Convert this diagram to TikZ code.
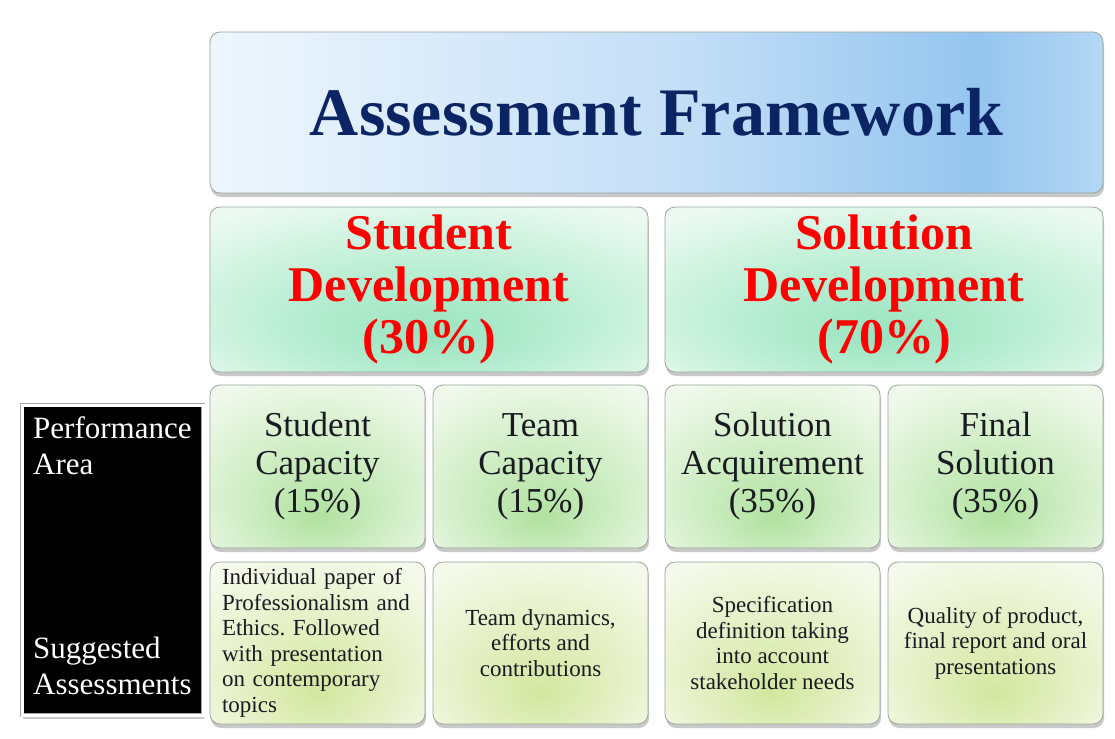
\documentclass[tikz,border=0pt]{standalone}
\usepackage{fontspec}
\setmainfont{Liberation Serif}
\usetikzlibrary{positioning,shadows}

\definecolor{navytext}{HTML}{0B2463}
\definecolor{bodytext}{HTML}{1A1A22}
\definecolor{edgegray}{HTML}{9AA59C}
\definecolor{skyA}{HTML}{EEF6FD}
\definecolor{skyB}{HTML}{C2DEF7}
\definecolor{skyC}{HTML}{94C5EF}
\definecolor{skyD}{HTML}{B4D7F5}
\definecolor{mintcore}{HTML}{98E4C0}
\definecolor{mintmid}{HTML}{BDEFD5}
\definecolor{mintedge}{HTML}{ECFAF2}
\definecolor{leafcore}{HTML}{B0E2A0}
\definecolor{leafmid}{HTML}{D0EEC5}
\definecolor{leafedge}{HTML}{F0F9EC}
\definecolor{limecore}{HTML}{D3E79E}
\definecolor{limemid}{HTML}{E4F0C4}
\definecolor{limeedge}{HTML}{F6FAEC}

\pgfdeclarehorizontalshading{skyband}{100bp}{color(0bp)=(skyA); color(25bp)=(skyA);
  color(52bp)=(skyB); color(68bp)=(skyC); color(75bp)=(skyD); color(100bp)=(skyD)}
\pgfdeclareradialshading{mintglow}{\pgfpoint{0bp}{-14bp}}{color(0bp)=(mintcore);
  color(18bp)=(mintmid); color(36bp)=(mintedge); color(60bp)=(mintedge)}
\pgfdeclareradialshading{leafglow}{\pgfpoint{0bp}{-16bp}}{color(0bp)=(leafcore);
  color(18bp)=(leafmid); color(36bp)=(leafedge); color(60bp)=(leafedge)}
\pgfdeclareradialshading{limeglow}{\pgfpoint{0bp}{-16bp}}{color(0bp)=(limecore);
  color(18bp)=(limemid); color(36bp)=(limeedge); color(60bp)=(limeedge)}

\tikzset{
  panel/.style={draw=edgegray, line width=0.8pt, rounded corners=10pt, outer sep=0pt,
    inner sep=4pt, align=center,
    drop shadow={shadow xshift=1pt, shadow yshift=-4pt, opacity=0.35, fill=black!60}},
  headbox/.style={panel, shading=skyband, minimum width=893pt, minimum height=161pt,
    text=navytext, font=\fontsize{68}{72}\selectfont\bfseries},
  groupbox/.style={panel, shading=mintglow, minimum width=438pt, minimum height=165pt,
    text=red, font=\fontsize{50}{52}\selectfont\bfseries},
  areabox/.style={panel, shading=leafglow, minimum width=215pt, minimum height=163pt,
    text=bodytext, font=\fontsize{35}{38}\selectfont},
  taskbox/.style={panel, shading=limeglow, minimum width=215pt, minimum height=162pt,
    text=bodytext, font=\fontsize{23}{25.5}\selectfont},
  sidebox/.style={fill=black, draw=gray!70, line width=0.6pt, double=white,
    double distance=3pt, minimum width=181pt, minimum height=310pt, outer sep=0pt,
    drop shadow={shadow xshift=1pt, shadow yshift=-4pt, opacity=0.35, fill=black!60}},
  sidelabel/.style={text=white, inner sep=0pt, align=left,
    font=\fontsize{31}{36}\selectfont}
}

\begin{document}
\frenchspacing
\begin{tikzpicture}[x=1pt,y=-1pt]
  \fill[white] (0,0) rectangle (1115,738);
  \useasboundingbox (0,0) rectangle (1115,738);

  \node[headbox] (frame) at (656.5,112.5) {Assessment Framework};

  \node[groupbox, below=14pt of frame.south west, anchor=north west] (studdev)
    {Student\\Development\\(30\%)};
  \node[groupbox, below=14pt of frame.south east, anchor=north east] (soldev)
    {Solution\\Development\\(70\%)};

  \node[areabox, below=13pt of studdev.south west, anchor=north west] (stucap)
    {Student\\Capacity\\(15\%)};
  \node[areabox, below=13pt of studdev.south east, anchor=north east] (teamcap)
    {Team\\Capacity\\(15\%)};
  \node[areabox, below=13pt of soldev.south west, anchor=north west] (solacq)
    {Solution\\Acquirement\\(35\%)};
  \node[areabox, below=13pt of soldev.south east, anchor=north east] (finsol)
    {Final\\Solution\\(35\%)};

  \node[taskbox, below=14pt of stucap, text width=191pt, align=left] (stutask)
    {Individual paper of Professionalism and Ethics. Followed with presentation
     on contemporary topics};
  \node[taskbox, below=14pt of teamcap] (teamtask)
    {Team dynamics,\\efforts and\\contributions};
  \node[taskbox, below=14pt of solacq] (acqtask)
    {Specification\\definition taking\\into account\\stakeholder needs};
  \node[taskbox, below=14pt of finsol] (fintask)
    {Quality of product,\\final report and oral\\presentations};

  \node[sidebox] (sidecol) at (112.5,560) {};
  \node[sidelabel, below right=11pt and 11pt of sidecol.north west] (perfarea)
    {Performance\\Area};
  \node[sidelabel, above right=20pt and 11pt of sidecol.south west] (suggest)
    {Suggested\\Assessments};
\end{tikzpicture}
\end{document}
